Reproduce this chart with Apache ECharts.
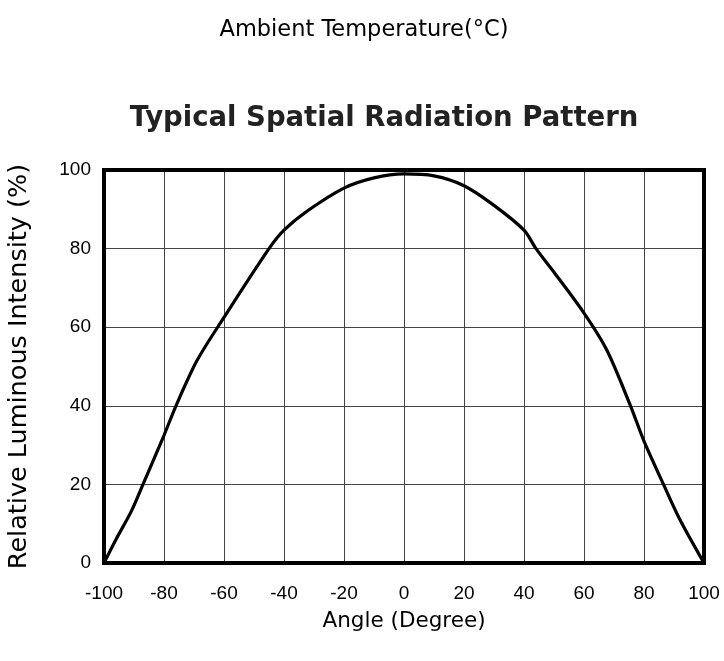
<!DOCTYPE html>
<html>
<head>
<meta charset="utf-8">
<script src="https://cdn.jsdelivr.net/npm/echarts@6/dist/echarts.min.js"></script>
<style>
  html, body { margin: 0; padding: 0; background: #fff; }
  #chart { width: 724px; height: 661px; }
</style>
</head>
<body>
<div id="chart"></div>
<script>
// 角度 (Degree)
const angles = [-100, -96, -91, -87, -80, -76, -69, -60, -45, -40, -32, -20, -10, 0,
  10, 20, 30, 40, 44, 50, 60, 67.6, 75.5, 80, 86.5, 92, 100];
// 相对光强 (%)
const intensity = [0, 6, 13, 20, 32.5, 40, 51.5, 62.5, 80, 84.7, 89.7, 95.4, 98, 99,
  98.5, 96, 91, 84.7, 80, 74, 63.6, 54.2, 40, 31, 20, 11, 0];
const xTicks = [-100, -80, -60, -40, -20, 0, 20, 40, 60, 80, 100];
const yTicks = [0, 20, 40, 60, 80, 100];

const chart = echarts.init(document.getElementById("chart"));
const verdana = "Verdana, 'DejaVu Sans', sans-serif";
const arial = "Arial, 'Liberation Sans', sans-serif";

chart.setOption({
  animation: false,
  graphic: [
    {
      type: "text",
      x: 364,
      y: 30,
      style: {
        text: "Ambient Temperature(°C)",
        font: "22.5px " + verdana,
        fill: "#000",
        align: "center",
        verticalAlign: "middle",
      },
    },
    {
      type: "text",
      x: 384,
      y: 119,
      style: {
        text: "Typical Spatial Radiation Pattern",
        font: "bold 27.5px " + verdana,
        fill: "#222",
        align: "center",
        verticalAlign: "middle",
      },
    },
  ],
  grid: {
    left: 104,
    top: 170,
    right: 20,
    bottom: 98,
    outerBoundsMode: "none",
    show: true,
    borderColor: "#000",
    borderWidth: 4,
    z: 3,
  },
  xAxis: {
    type: "value",
    min: -100,
    max: 100,
    interval: 20,
    name: "Angle (Degree)",
    nameLocation: "middle",
    nameGap: 47,
    nameTextStyle: { fontFamily: verdana, fontSize: 21.5, color: "#000" },
    axisLine: { show: false },
    axisTick: { show: false },
    axisLabel: {
      margin: 21,
      fontFamily: arial,
      fontSize: 19,
      color: "#000",
      formatter: (v) => (xTicks.includes(v) ? String(v) : ""),
    },
    splitLine: { lineStyle: { color: "#444", width: 1 } },
  },
  yAxis: {
    type: "value",
    min: 0,
    max: 100,
    interval: 20,
    name: "Relative Luminous Intensity (%)",
    nameLocation: "middle",
    nameGap: 72,
    nameTextStyle: { fontFamily: verdana, fontSize: 25.5, color: "#000" },
    axisLine: { show: false },
    axisTick: { show: false },
    axisLabel: {
      margin: 13,
      fontFamily: arial,
      fontSize: 19,
      color: "#000",
      formatter: (v) => (yTicks.includes(v) ? String(v) : ""),
    },
    splitLine: { lineStyle: { color: "#444", width: 1 } },
  },
  series: [
    {
      type: "line",
      data: angles.map((a, i) => [a, intensity[i]]),
      smooth: 0.3,
      showSymbol: false,
      lineStyle: { color: "#000", width: 3.2 },
      z: 4,
    },
  ],
});
</script>
</body>
</html>
